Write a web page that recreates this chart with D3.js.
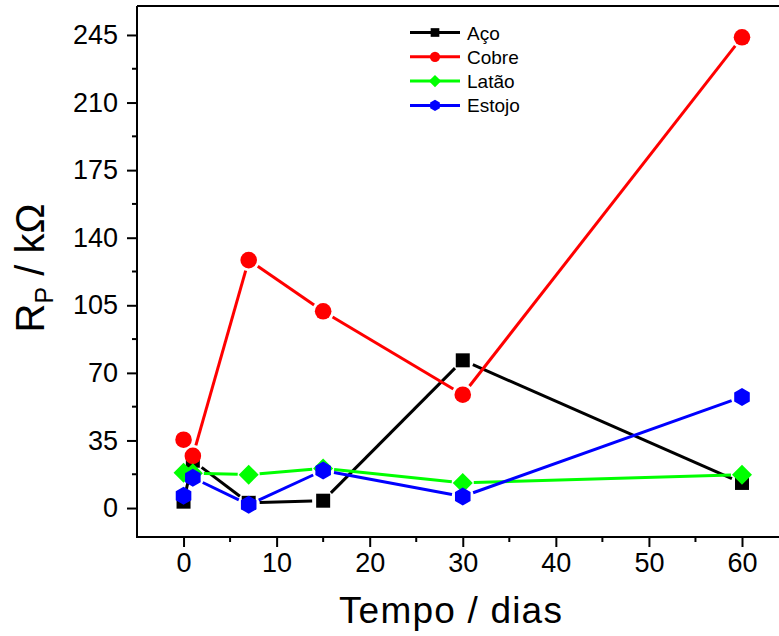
<!DOCTYPE html>
<html>
<head>
<meta charset="utf-8">
<script src="https://cdn.jsdelivr.net/npm/d3@7"></script>
<style>
  body { margin: 0; background: #fff; }
  text { font-family: Arial, "Liberation Sans", sans-serif; fill: #000; }
</style>
</head>
<body>
<div id="chart"></div>
<script>
// data
const days = [0, 1, 7, 15, 30, 60];
const aco = [3.3, 24.5, 2.7, 3.8, 76.5, 13];
const cobre = [35.4, 27, 128.4, 101.9, 58.7, 243.8];
const latao = [18.3, 18, 17.3, 20.5, 13, 17.3];
const estojo = [6.4, 15.7, 1.7, 19.5, 6, 57.5];
const seriesNames = ["Aço", "Cobre", "Latão", "Estojo"];
const seriesColors = ["#000000", "#ff0000", "#00ff00", "#0000ff"];
const seriesShapes = ["square", "circle", "diamond", "hexagon"];
const xTicks = [0, 10, 20, 30, 40, 50, 60];
const yTicks = [0, 35, 70, 105, 140, 175, 210, 245];

const W = 779, H = 636;
const margin = { top: 6, left: 137, bottom: 537 };

const svg = d3.select("#chart").append("svg")
  .attr("width", W).attr("height", H);

const x = d3.scaleLinear().domain([-5, 60]).range([margin.left, 742]);
const y = d3.scaleLinear().domain([-15, 260]).range([margin.bottom, margin.top]);
const xMax = 65;

// marker shapes
function markerPath(shape) {
  if (shape === "square") return d3.symbol(d3.symbolSquare, 196)();
  if (shape === "circle") return d3.symbol(d3.symbolCircle, Math.PI * 8.3 * 8.3)();
  if (shape === "diamond") {
    const r = 10;
    return `M0,${-r}L${r},0L0,${r}L${-r},0Z`;
  }
  // hexagon, pointy top
  const r = 9;
  const pts = d3.range(6).map(i => {
    const a = Math.PI / 3 * i - Math.PI / 2;
    return [r * Math.cos(a), r * Math.sin(a)];
  });
  return d3.line()(pts) + "Z";
}

// frame
svg.append("line")
  .attr("x1", x(-5)).attr("x2", x(xMax))
  .attr("y1", margin.top).attr("y2", margin.top)
  .attr("stroke", "#000").attr("stroke-width", 2);

// x axis
const xAxis = d3.axisBottom(x).tickValues(xTicks).tickSize(10).tickPadding(6);
const gx = svg.append("g").attr("transform", `translate(0,${margin.bottom})`)
  .call(xAxis);
gx.select(".domain").remove();
gx.append("line").attr("x1", x(-5)).attr("x2", x(xMax))
  .attr("stroke", "#000").attr("stroke-width", 2);
gx.selectAll(".tick line").attr("stroke-width", 2);
gx.selectAll(".tick text").style("font-size", "27px")
  .style("font-family", "Arial, 'Liberation Sans', sans-serif");
gx.selectAll(".minor").data(d3.range(5, 61, 10)).enter().append("line")
  .attr("x1", d => x(d)).attr("x2", d => x(d))
  .attr("y1", 0).attr("y2", 5)
  .attr("stroke", "#000").attr("stroke-width", 2);

// y axis
const yAxis = d3.axisLeft(y).tickValues(yTicks).tickSize(10).tickPadding(9);
const gy = svg.append("g").attr("transform", `translate(${margin.left},0)`)
  .call(yAxis);
gy.select(".domain").remove();
gy.append("line").attr("y1", margin.top).attr("y2", margin.bottom + 1)
  .attr("stroke", "#000").attr("stroke-width", 2);
gy.selectAll(".tick line").attr("stroke-width", 2);
gy.selectAll(".tick text").style("font-size", "27px")
  .style("font-family", "Arial, 'Liberation Sans', sans-serif");
gy.selectAll(".minor").data(d3.range(17.5, 260, 35)).enter().append("line")
  .attr("x1", 0).attr("x2", -5)
  .attr("y1", d => y(d)).attr("y2", d => y(d))
  .attr("stroke", "#000").attr("stroke-width", 2);

// axis titles
svg.append("text")
  .attr("x", 451).attr("y", 623)
  .attr("text-anchor", "middle")
  .style("font-size", "37px")
  .style("letter-spacing", "1.2px")
  .text("Tempo / dias");

const yt = svg.append("text")
  .attr("transform", "translate(44,268) rotate(-90)")
  .attr("text-anchor", "middle")
  .style("font-size", "40px");
yt.append("tspan").text("R");
yt.append("tspan").attr("dy", 9).style("font-size", "25px").text("P");
yt.append("tspan").attr("dy", -9).text(" / kΩ");

// series
const allSeries = [aco, cobre, latao, estojo];
const gap = 11;

allSeries.forEach((vals, si) => {
  const g = svg.append("g");
  const pts = days.map((d, i) => [x(d), y(vals[i])]);
  for (let i = 0; i < pts.length - 1; i++) {
    const [x1, y1] = pts[i], [x2, y2] = pts[i + 1];
    const len = Math.hypot(x2 - x1, y2 - y1);
    if (len <= gap * 2) continue;
    const ux = (x2 - x1) / len, uy = (y2 - y1) / len;
    g.append("line")
      .attr("x1", x1 + ux * gap).attr("y1", y1 + uy * gap)
      .attr("x2", x2 - ux * gap).attr("y2", y2 - uy * gap)
      .attr("stroke", seriesColors[si]).attr("stroke-width", 3);
  }
  g.selectAll("path.mk").data(pts).enter().append("path")
    .attr("class", "mk")
    .attr("d", markerPath(seriesShapes[si]))
    .attr("transform", d => `translate(${d[0]},${d[1]})`)
    .attr("fill", seriesColors[si]);
});

// legend
const legend = svg.append("g");
seriesNames.forEach((name, i) => {
  const ly = 32.5 + i * 24.3;
  legend.append("line")
    .attr("x1", 410).attr("x2", 460).attr("y1", ly).attr("y2", ly)
    .attr("stroke", seriesColors[i]).attr("stroke-width", 3);
  legend.append("path")
    .attr("d", markerPath(seriesShapes[i]))
    .attr("transform", `translate(435,${ly}) scale(0.62)`)
    .attr("fill", seriesColors[i]);
  legend.append("text")
    .attr("x", 467).attr("y", ly + 7)
    .style("font-size", "19px")
    .text(name);
});
</script>
</body>
</html>
